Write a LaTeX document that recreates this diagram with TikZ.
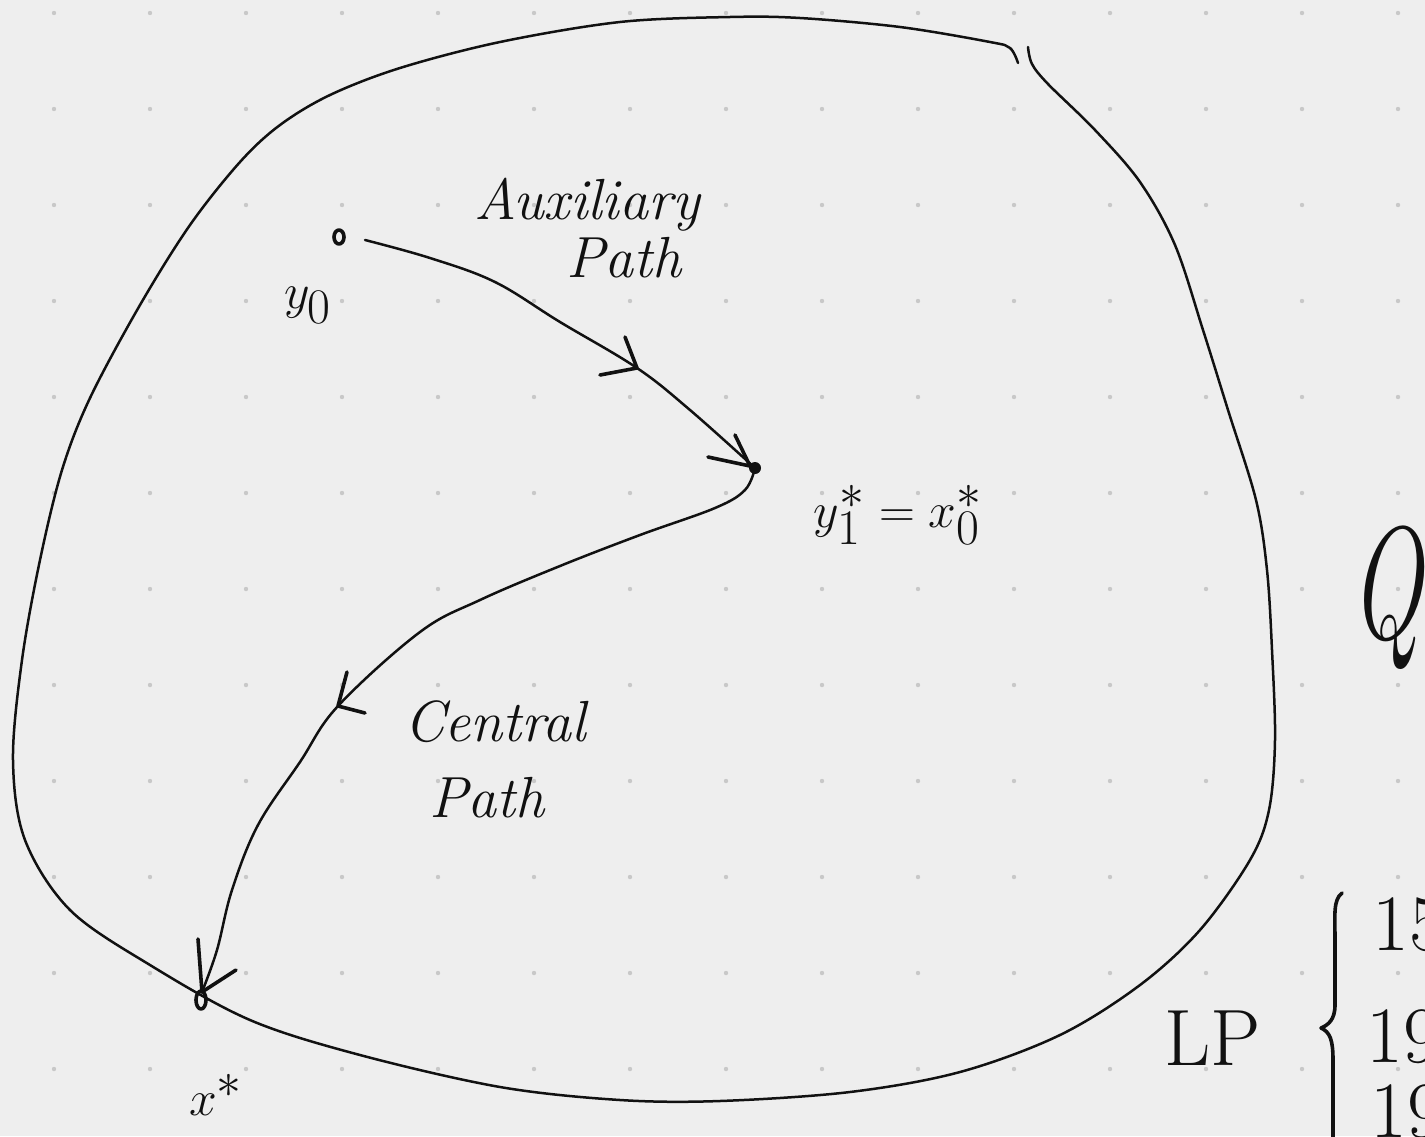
\documentclass[tikz,border=0pt]{standalone}
\usetikzlibrary{calc}
\definecolor{bgc}{HTML}{EEEEEE}
\definecolor{dotc}{HTML}{C8C8C8}
\definecolor{ink}{HTML}{111111}
\tikzset{
  pen/.style={draw=ink, line width=1.25pt, line cap=round, line join=round},
  thickpen/.style={draw=ink, line width=1.8pt, line cap=round, line join=round},
  lbl/.style={text=ink, inner sep=0pt, font=\fontsize{29}{32}\selectfont\itshape},
  mlbl/.style={text=ink, inner sep=0pt, font=\fontsize{40}{44}\selectfont},
  numlbl/.style={text=ink, anchor=west, inner sep=0pt, font=\fontsize{40}{44}\selectfont},
}
\begin{document}
\begin{tikzpicture}[x=0.5pt,y=-0.5pt]
\fill[bgc] (0,0) rectangle (1425,1136);
\begin{scope}
\clip (0,0) rectangle (1425,1136);
% dot grid
\foreach \i in {0,...,14} \foreach \j in {0,...,11}
  \fill[dotc] (54+96*\i,13+96*\j) circle (1.1pt);
% points
\coordinate (y0) at (339,237);
\coordinate (y0s) at (365,240);
\coordinate (y1) at (755,468);
\coordinate (mA) at (637,368);
\coordinate (mC) at (338,706);
\coordinate (xs) at (202,992);
\coordinate (xsp) at (201,1000);
% feasible region
\draw[pen] plot[smooth, tension=0.55] coordinates {
 (1028,47) (1032,64) (1048,84) (1095,130) (1140,182) (1175,245) (1203,330)
 (1228,410) (1256,500) (1267,570) (1272,650) (1275,740) (1269,810) (1250,860)
 (1200,930) (1140,985) (1060,1035) (960,1072) (850,1092) (720,1101) (620,1100)
 (500,1087) (360,1055) (250,1020) (150,965) (70,910) (25,840) (13,760) (22,660)
 (40,560) (62,470) (90,398) (140,305) (190,225) (240,162) (280,125) (330,95)
 (400,68) (500,42) (620,22) (730,17) (800,18) (900,27) (990,42) (1010,48) (1018,63)};
% auxiliary path
\draw[pen] plot[smooth, tension=0.6] coordinates {(y0s) (430,258) (495,282) (560,322) (mA) (690,410) (y1)};
\draw[thickpen] (mA) ++(-12,-31) -- (mA) -- ++(-37,7);
\draw[thickpen] (y1) ++(-20,-33) -- ($(y1)+(-5,-2)$) -- ++(-42,-9);
% central path
\draw[pen] plot[smooth, tension=0.6] coordinates {(y1) (745,490) (715,508) (640,535) (560,566) (480,600) (420,632) (mC) (300,762) (258,825) (232,890) (217,950) (xs)};
\draw[thickpen] (mC) ++(9,-34) -- (mC) -- ++(27,7);
\draw[thickpen] (xs) ++(-4,-53) -- (xs) -- ++(34,-22);
% point markers
\draw[thickpen] (y0) ellipse [x radius=5, y radius=7];
\fill[ink] (y1) circle (3pt);
\draw[thickpen] (xsp) ellipse [x radius=5, y radius=9];
% labels
\node[lbl] (auxA) at (587,205) {Auxiliary};
\node[lbl] (auxB) at (624,258) {Path};
\node[mlbl] (ly0) at (308,305) {$y_0$};
\node[mlbl] (ly1) at (898,515) {$y_1^* = x_0^*$};
\node[lbl] (cenA) at (495,722) {Central};
\node[lbl] (cenB) at (487,798) {Path};
\node[mlbl] (lxs) at (216,1095) {$x^*$};
\node[text=ink, inner sep=0pt, xscale=0.6, font=\fontsize{80}{88}\selectfont\itshape] (Q) at (1386,598) {Q};
\node[text=ink, inner sep=0pt, font=\fontsize{40}{44}\selectfont] (LP) at (1213,1038) {LP};
\draw[thickpen] (1342,893) .. controls (1333,900) and (1335,915) .. (1335,940)
  -- (1335,1005) .. controls (1335,1020) and (1328,1025) .. (1321,1028)
  .. controls (1330,1032) and (1333,1040) .. (1333,1060) -- (1333,1140);
\node[numlbl] (n1) at (1372,925) {15};
\node[numlbl] (n2) at (1366,1037) {19};
\node[numlbl] (n3) at (1370,1112) {19};
\end{scope}
\pgfresetboundingbox
\useasboundingbox (0,0) rectangle (1425,1136);
\end{tikzpicture}
\end{document}
